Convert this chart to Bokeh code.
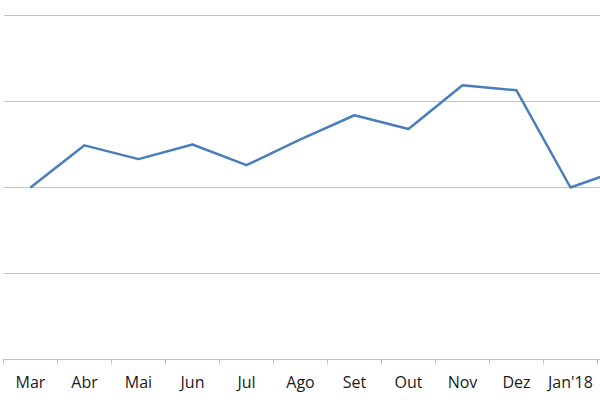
from bokeh.plotting import figure
from bokeh.models import Range1d, FixedTicker, Grid
from bokeh.embed import file_html
from bokeh.resources import INLINE

# Data (y in gridline units: axis = 0, gridlines at 1, 2, 3, 4)
months = ["Mar", "Abr", "Mai", "Jun", "Jul", "Ago", "Set", "Out", "Nov", "Dez", "Jan'18", "Fev"]
values = [2.00, 2.49, 2.33, 2.50, 2.26, 2.56, 2.84, 2.68, 3.19, 3.13, 2.00, 2.22]
grid_values = [1, 2, 3, 4]

xs = list(range(len(months)))

p = figure(width=600, height=400, output_backend="svg", toolbar_location=None,
           x_range=Range1d(-0.5, 10.556), y_range=Range1d(0, 4.1744),
           y_axis_location=None, min_border_left=3, min_border_right=0,
           min_border_top=0, min_border_bottom=41)
p.outline_line_color = None
p.background_fill_color = "white"
p.border_fill_color = "white"
p.xgrid.visible = False
p.ygrid.visible = False

p.add_layout(Grid(dimension=1, ticker=FixedTicker(ticks=grid_values),
                  grid_line_color="#c4c4c4", grid_line_width=1))

p.line(xs, values, line_color="#4a7ebb", line_width=2.5, line_join="round")

ax = p.xaxis[0]
ax.ticker = FixedTicker(ticks=xs, minor_ticks=[i - 0.5 for i in range(len(months) + 1)])
ax.major_label_overrides = {i: m for i, m in enumerate(months)}
ax.major_tick_out = 0
ax.major_tick_in = 0
ax.minor_tick_out = 5
ax.minor_tick_in = 0
ax.minor_tick_line_color = "#c4c4c4"
ax.axis_line_color = "#c4c4c4"
ax.axis_line_width = 1
ax.major_label_text_font = "Open Sans"
ax.major_label_text_font_size = "16px"
ax.major_label_text_color = "#1a1a1a"
ax.major_label_standoff = 6

open("out.html", "w").write(file_html(p, INLINE))
